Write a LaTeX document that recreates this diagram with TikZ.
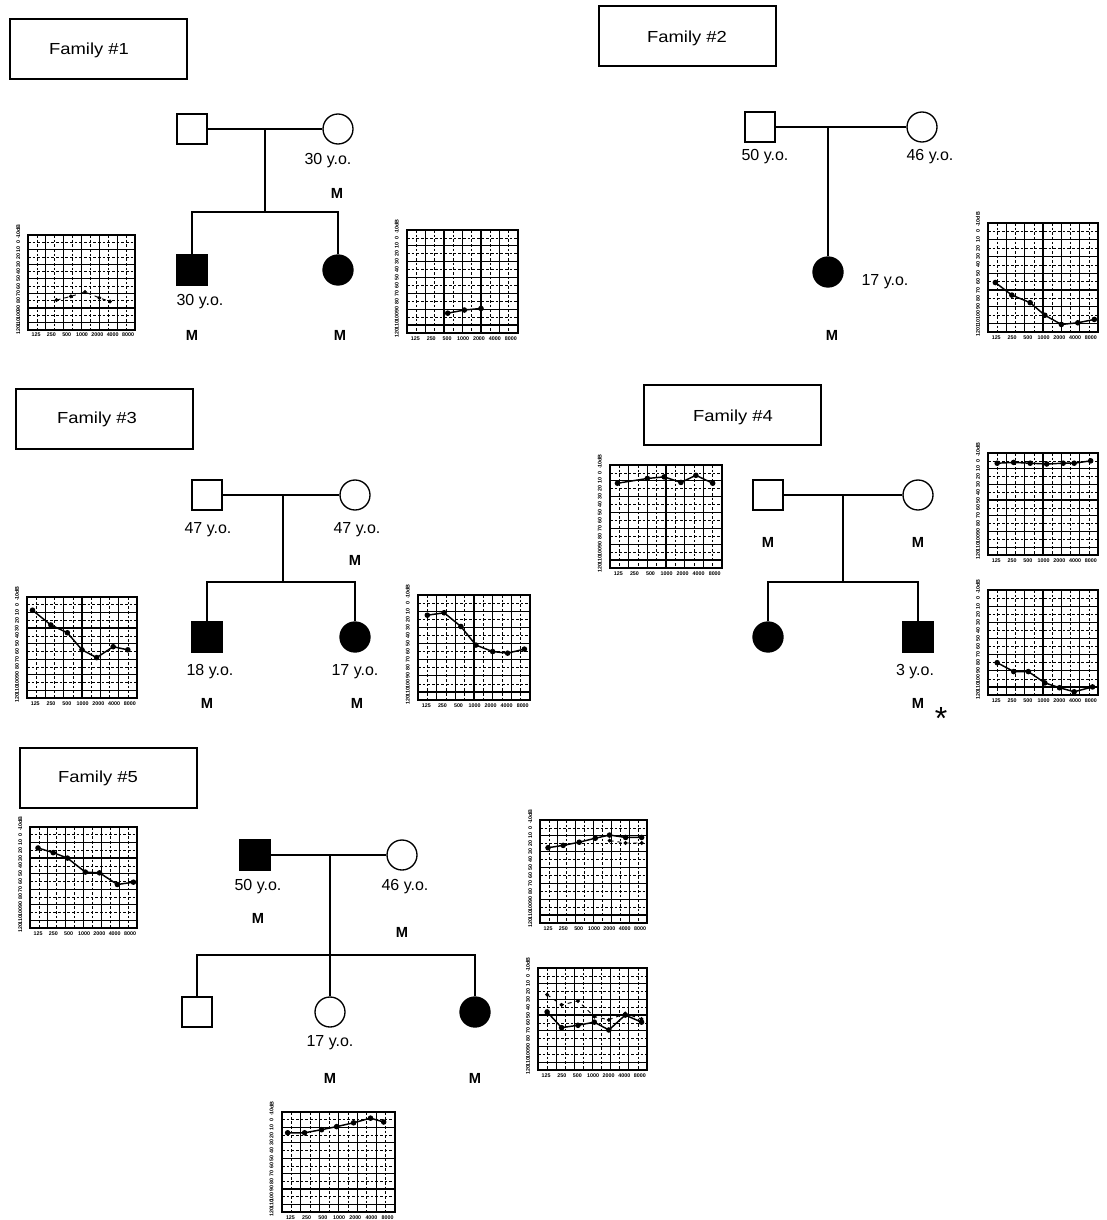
\documentclass[tikz,border=0pt]{standalone}
\usepackage{fontspec}
\setmainfont{Liberation Sans}
\newfontfamily\famfont[FakeStretch=1.15]{Liberation Sans}
\tikzset{
  ind/.style={draw, line width=1pt, minimum size=22.5pt, inner sep=0pt},
  male/.style={ind, rectangle},
  female/.style={ind, circle},
  aff/.style={fill=black},
  fambox/.style={draw, line width=0.9pt, minimum width=132.75pt, minimum height=45pt},
  famtext/.style={font=\famfont\fontsize{12}{14}\selectfont, inner sep=0pt},
  age/.style={font=\fontsize{12}{14}\selectfont, inner sep=0pt},
  mut/.style={font=\bfseries\fontsize{11}{13}\selectfont, inner sep=0pt},
  link/.style={line width=1pt},
  gridthick/.style={line width=0.9pt},
  gridthin/.style={line width=0.5pt, dash pattern=on 2pt off 1.5pt},
  dataline/.style={line width=1.1pt, mark=*, mark size=1.5pt},
  dashdata/.style={line width=0.7pt, dashed, mark=*, mark size=1.1pt, mark options={solid}},
  ticklab/.style={font=\bfseries\fontsize{4}{4.5}\selectfont, inner sep=0pt},
}
\newcommand\audiogram[6]{%
 \begin{scope}[shift={(#2,#3)}, x={({#4/6*0.75pt},0pt)}, y={(0pt,{-#5/13*0.75pt})}]
  \draw[gridthin] \foreach \j in {1,3,...,11}{(0,\j) -- (6,\j)};
  \draw[gridthin] \foreach \i in {0.5,1.5,...,5.5}{(\i,0) -- (\i,13)};
  \draw[gridthick] \foreach \j in {2,4,...,12}{(0,\j) -- (6,\j)};
  \draw[gridthick] \foreach \i in {1,...,5}{(\i,0) -- (\i,13)};
  \draw[line width=1.1pt] (0,0) rectangle (6,13);
  \foreach \v [count=\k from 0] in {-10,0,10,20,30,40,50,60,70,80,90,100,110,120}
    \node[ticklab, rotate=90, name=#1y\k] at (-0.55,\k) {\v};
  \node[ticklab, rotate=90, name=#1db] at (-0.55,-0.9) {dB};
  \foreach \f [count=\k from 0] in {125,250,500,1000,2000,4000,8000}
    \node[ticklab, name=#1x\k] at ({0.45+\k*0.86},13.7) {\f};
  #6
 \end{scope}}
\begin{document}
\begin{tikzpicture}[x=0.75pt,y=-0.75pt]
\fill[white] (0,0) rectangle (1106,1220);
\useasboundingbox (0,0) rectangle (1106,1220);

% ---------------- Family 1
\node[fambox] (fam1) at (98.5,49) {};
\node[famtext] (fam1t) at (89,50) {Family \#1};
\node[male] (f1fa) at (192,129) {};
\node[female] (f1mo) at (338,129) {};
\coordinate (f1mid) at (265,129);
\coordinate (f1sib) at (265,212);
\coordinate (f1sl) at (192,212);
\coordinate (f1sr) at (338,212);
\node[male, aff] (f1c1) at (192,270) {};
\node[female, aff] (f1c2) at (338,270) {};
\draw[link] (f1fa) -- (f1mo);
\draw[link] (f1mid) -- (f1sib);
\draw[link] (f1c1) -- (f1sl) -- (f1sr) -- (f1c2);
\node[age] (f1moage) at (328,161) {30 y.o.};
\node[mut] (f1mom) at (337,193) {M};
\node[age] (f1c1age) at (200,302) {30 y.o.};
\node[mut] (f1c1m) at (192,335) {M};
\node[mut] (f1c2m) at (340,335) {M};
\audiogram{aA}{28}{235}{107}{95}{\draw[dashdata] plot coordinates {(1.6,8.9) (2.4,8.4) (3.2,7.8) (4.0,8.6) (4.6,9.1)};}
\audiogram{aB}{407}{230}{111}{103}{\draw[dataline] plot coordinates {(2.2,10.5) (3.1,10.1) (4.0,9.9)};}

% ---------------- Family 2
\node[fambox] (fam2) at (687.5,36) {};
\node[famtext] (fam2t) at (687,38) {Family \#2};
\node[male] (f2fa) at (760,127) {};
\node[female] (f2mo) at (922,127) {};
\coordinate (f2mid) at (828,127);
\node[female, aff] (f2c1) at (828,272) {};
\draw[link] (f2fa) -- (f2mo);
\draw[link] (f2mid) -- (f2c1);
\node[age] (f2faage) at (765,157) {50 y.o.};
\node[age] (f2moage) at (930,157) {46 y.o.};
\node[age] (f2c1age) at (885,282) {17 y.o.};
\node[mut] (f2c1m) at (832,335) {M};
\audiogram{aC}{988}{223}{110}{109}{\draw[dataline] plot coordinates {(0.4,7.1) (1.3,8.6) (2.3,9.5) (3.1,11) (4,12.1) (4.9,11.9) (5.8,11.5)};}

% ---------------- Family 3
\node[fambox] (fam3) at (104.5,419) {};
\node[famtext] (fam3t) at (97,419) {Family \#3};
\node[male] (f3fa) at (207,495) {};
\node[female] (f3mo) at (355,495) {};
\coordinate (f3mid) at (283,495);
\coordinate (f3sib) at (283,582);
\coordinate (f3sl) at (207,582);
\coordinate (f3sr) at (355,582);
\node[male, aff] (f3c1) at (207,637) {};
\node[female, aff] (f3c2) at (355,637) {};
\draw[link] (f3fa) -- (f3mo);
\draw[link] (f3mid) -- (f3sib);
\draw[link] (f3c1) -- (f3sl) -- (f3sr) -- (f3c2);
\node[age] (f3faage) at (208,530) {47 y.o.};
\node[age] (f3moage) at (357,530) {47 y.o.};
\node[mut] (f3mom) at (355,560) {M};
\node[age] (f3c1age) at (210,672) {18 y.o.};
\node[age] (f3c2age) at (355,672) {17 y.o.};
\node[mut] (f3c1m) at (207,703) {M};
\node[mut] (f3c2m) at (357,703) {M};
\audiogram{aD}{27}{597}{110}{101}{\draw[dataline] plot coordinates {(0.3,1.7) (1.3,3.6) (2.2,4.6) (3.0,6.8) (3.8,7.8) (4.7,6.4) (5.5,6.8)};}
\audiogram{aE}{418}{595}{112}{105}{\draw[dataline] plot coordinates {(0.5,2.5) (1.4,2.2) (2.3,3.9) (3.1,6.2) (4.0,7.0) (4.8,7.2) (5.7,6.7)};}

% ---------------- Family 4
\node[fambox] (fam4) at (732.5,415) {};
\node[famtext] (fam4t) at (733,417) {Family \#4};
\node[male] (f4fa) at (768,495) {};
\node[female] (f4mo) at (918,495) {};
\coordinate (f4mid) at (843,495);
\coordinate (f4sib) at (843,582);
\coordinate (f4sl) at (768,582);
\coordinate (f4sr) at (918,582);
\node[female, aff] (f4c1) at (768,637) {};
\node[male, aff] (f4c2) at (918,637) {};
\draw[link] (f4fa) -- (f4mo);
\draw[link] (f4mid) -- (f4sib);
\draw[link] (f4c1) -- (f4sl) -- (f4sr) -- (f4c2);
\node[mut] (f4fam) at (768,542) {M};
\node[mut] (f4mom) at (918,542) {M};
\node[age] (f4c2age) at (915,672) {3 y.o.};
\node[mut] (f4c2m) at (918,703) {M};
\node[font=\fontsize{24}{26}\selectfont, inner sep=0pt] (f4star) at (941,718) {*};
\audiogram{aF}{610}{465}{112}{103}{\draw[dataline] plot coordinates {(0.4,2.3) (2.0,1.7) (2.9,1.5) (3.8,2.2) (4.6,1.3) (5.5,2.3)};}
\audiogram{aG}{988}{453}{110}{102}{\draw[dataline] plot coordinates {(0.5,1.3) (1.4,1.2) (2.3,1.3) (3.2,1.4) (4.1,1.3) (4.7,1.3) (5.6,1.0)};}
\audiogram{aH}{988}{590}{110}{105}{\draw[dataline] plot coordinates {(0.5,9.0) (1.4,10.1) (2.2,10.1) (3.1,11.5) (3.9,12.1) (4.7,12.6) (5.7,12.0)};}

% ---------------- Family 5
\node[fambox] (fam5) at (108.5,778) {};
\node[famtext] (fam5t) at (98,778) {Family \#5};
\node[male, aff] (f5fa) at (255,855) {};
\node[female] (f5mo) at (402,855) {};
\coordinate (f5mid) at (330,855);
\coordinate (f5sl) at (197,955);
\coordinate (f5sr) at (475,955);
\node[male] (f5c1) at (197,1012) {};
\node[female] (f5c2) at (330,1012) {};
\node[female, aff] (f5c3) at (475,1012) {};
\draw[link] (f5fa) -- (f5mo);
\draw[link] (f5mid) -- (f5c2);
\draw[link] (f5c1) -- (f5sl) -- (f5sr) -- (f5c3);
\node[age] (f5faage) at (258,887) {50 y.o.};
\node[age] (f5moage) at (405,887) {46 y.o.};
\node[mut] (f5fam) at (258,918) {M};
\node[mut] (f5mom) at (402,932) {M};
\node[age] (f5c2age) at (330,1043) {17 y.o.};
\node[mut] (f5c2m) at (330,1078) {M};
\node[mut] (f5c3m) at (475,1078) {M};
\audiogram{aI}{30}{827}{107}{101}{\draw[dataline] plot coordinates {(0.45,2.7) (1.3,3.3) (2.1,4.0) (3.1,5.8) (3.9,5.9) (4.9,7.4) (5.8,7.1)};}
\audiogram{aJ}{540}{820}{107}{103}{\draw[dataline] plot coordinates {(0.45,3.5) (1.3,3.2) (2.2,2.8) (3.1,2.3) (3.9,1.9) (4.8,2.2) (5.7,2.2)};
  \draw[dashdata] plot coordinates {(3.9,2.6) (4.8,2.9) (5.7,2.9)};}
\audiogram{aK}{538}{968}{109}{102}{\draw[dataline] plot coordinates {(0.5,5.6) (1.3,7.6) (2.2,7.3) (3.1,6.9) (3.9,7.9) (4.8,6.0) (5.7,6.9)};
  \draw[dashdata] plot coordinates {(0.5,3.4) (1.3,4.7) (2.2,4.2) (3.1,6.2) (3.9,6.6) (4.8,5.8) (5.7,6.5)};}
\audiogram{aL}{282}{1112}{113}{100}{\draw[dataline] plot coordinates {(0.3,2.7) (1.2,2.7) (2.1,2.3) (2.9,1.9) (3.8,1.4) (4.7,0.8) (5.4,1.3)};}
\end{tikzpicture}
\end{document}
